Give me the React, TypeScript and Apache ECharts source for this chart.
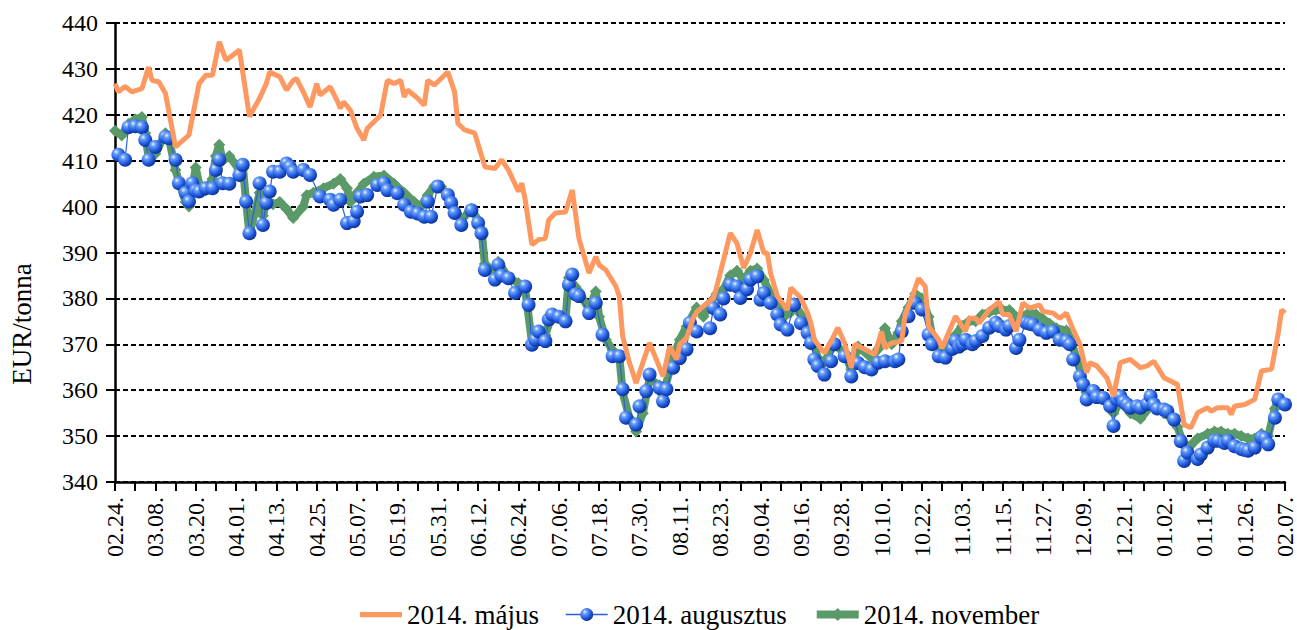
import React, { useEffect, useRef } from 'react';
import * as echarts from 'echarts';

const tickLabels = [
  '02.24.', '03.08.', '03.20.', '04.01.', '04.13.', '04.25.', '05.07.', '05.19.', '05.31.', '06.12.',
  '06.24.', '07.06.', '07.18.', '07.30.', '08.11.', '08.23.', '09.04.', '09.16.', '09.28.', '10.10.',
  '10.22.', '11.03.', '11.15.', '11.27.', '12.09.', '12.21.', '01.02.', '01.14.', '01.26.', '02.07.',
];

// day offsets from 02.24.
const majusDays = [0, 1, 3, 5, 8, 10, 11, 13, 15, 18, 22, 25, 27, 29, 31, 33, 35, 37, 40, 43, 45, 46, 49, 51, 53, 54, 56, 58, 60, 61, 64, 66, 67, 68, 70, 72, 74, 75, 79, 81, 83, 85, 86, 87, 90, 92, 93, 95, 97, 99, 101, 102, 104, 107, 109, 110, 113, 115, 117, 120, 121, 122, 124, 126, 128, 129, 131, 134, 136, 138, 141, 143, 144, 146, 149, 150, 151, 153, 155, 157, 159, 161, 163, 165, 167, 168, 170, 172, 173, 175, 178, 179, 181, 183, 185, 187, 189, 191, 193, 194, 195, 197, 200, 201, 204, 206, 207, 208, 211, 213, 215, 217, 219, 220, 223, 226, 228, 229, 231, 234, 235, 237, 239, 241, 242, 245, 246, 250, 253, 254, 256, 257, 260, 263, 264, 266, 268, 270, 272, 275, 276, 279, 281, 283, 285, 287, 289, 290, 292, 295, 297, 299, 302, 305, 307, 309, 312, 315, 316, 318, 320, 322, 325, 326, 328, 331, 332, 333, 336, 339, 341, 344, 346, 347, 348];
const majusValues = [426.8, 425.0, 426.2, 425.0, 425.7, 430.4, 427.5, 427.2, 424.7, 413.0, 415.6, 426.8, 428.6, 428.6, 435.9, 431.9, 433.0, 434.1, 419.6, 423.6, 426.8, 429.3, 428.3, 425.4, 427.5, 427.9, 425.0, 421.7, 426.8, 424.3, 426.1, 423.2, 421.4, 422.8, 421.0, 417.0, 414.5, 417.0, 419.9, 427.5, 426.8, 427.5, 423.9, 425.4, 423.6, 422.1, 427.5, 426.5, 427.9, 429.3, 425.0, 418.1, 416.7, 416.0, 411.2, 408.7, 408.3, 410.2, 408.0, 403.3, 405.1, 401.5, 391.7, 392.8, 393.1, 397.1, 398.6, 398.8, 403.6, 393.0, 385.5, 389.1, 387.3, 386.2, 382.6, 380.4, 371.7, 366.0, 361.6, 366.0, 370.3, 366.7, 363.0, 369.6, 366.7, 370.0, 371.4, 375.7, 377.0, 378.3, 380.1, 382.6, 388.4, 394.2, 392.0, 386.6, 389.9, 394.9, 389.9, 389.9, 385.5, 380.5, 377.5, 382.3, 380.1, 376.8, 374.6, 371.0, 368.1, 370.7, 373.6, 370.3, 364.9, 370.0, 368.9, 367.8, 372.8, 369.2, 370.3, 370.7, 376.5, 380.1, 384.4, 382.6, 373.9, 371.0, 369.2, 376.1, 372.8, 375.7, 375.7, 374.6, 377.5, 379.3, 376.5, 376.5, 372.8, 379.0, 377.9, 378.6, 377.2, 376.8, 375.7, 376.8, 373.2, 370.0, 363.8, 366.0, 365.3, 362.7, 358.7, 366.0, 366.7, 364.9, 365.3, 366.3, 362.7, 361.6, 361.3, 352.5, 351.8, 355.1, 356.2, 355.4, 356.2, 356.2, 354.7, 356.5, 356.9, 358.0, 364.2, 364.6, 372.5, 377.5, 376.8];

const augDays = [1, 3, 4, 6, 8, 9, 10, 12, 15, 16, 18, 19, 21, 22, 23, 24, 25, 27, 29, 30, 31, 32, 34, 37, 38, 39, 40, 43, 44, 45, 46, 47, 49, 51, 52, 53, 56, 58, 61, 64, 65, 67, 69, 71, 72, 73, 75, 78, 80, 81, 84, 86, 88, 90, 92, 93, 94, 96, 99, 100, 101, 103, 106, 108, 109, 110, 113, 114, 115, 117, 119, 122, 123, 124, 125, 126, 128, 129, 130, 132, 134, 135, 136, 137, 138, 141, 143, 145, 148, 150, 151, 152, 155, 156, 158, 159, 162, 163, 164, 166, 168, 170, 171, 173, 177, 178, 180, 181, 183, 185, 186, 188, 189, 191, 192, 193, 195, 197, 198, 200, 202, 204, 206, 207, 208, 209, 211, 213, 214, 217, 219, 221, 223, 225, 227, 229, 232, 233, 234, 236, 238, 240, 242, 243, 245, 247, 249, 250, 251, 252, 253, 255, 256, 258, 260, 262, 263, 265, 266, 268, 269, 271, 272, 273, 275, 277, 279, 281, 283, 284, 285, 287, 288, 289, 291, 292, 294, 296, 297, 298, 299, 300, 301, 302, 304, 305, 307, 308, 309, 310, 312, 313, 315, 317, 318, 319, 322, 323, 325, 327, 328, 330, 331, 333, 335, 336, 337, 339, 341, 342, 343, 345, 346, 348];
const augValues = [411.3, 410.2, 417.3, 417.5, 417.3, 414.5, 410.2, 413.0, 415.2, 414.9, 410.2, 405.1, 403.0, 401.1, 405.1, 403.5, 403.3, 404.0, 404.0, 408.0, 410.2, 405.1, 405.0, 406.9, 409.1, 401.1, 394.2, 405.1, 396.0, 400.8, 403.3, 407.6, 407.6, 409.4, 408.7, 407.6, 408.0, 406.9, 402.2, 401.5, 400.4, 401.5, 396.4, 396.8, 398.9, 402.2, 402.5, 404.7, 405.1, 403.6, 402.9, 400.4, 398.9, 398.5, 397.8, 401.1, 397.8, 404.4, 402.5, 400.8, 398.6, 396.0, 399.2, 396.4, 394.2, 386.2, 384.1, 387.3, 385.0, 384.4, 381.2, 382.6, 378.6, 369.9, 371.0, 372.8, 370.7, 375.4, 376.5, 376.0, 375.0, 383.0, 385.2, 380.9, 380.5, 376.8, 379.0, 372.1, 367.4, 367.4, 360.2, 354.0, 352.5, 356.5, 359.8, 363.4, 360.5, 357.6, 360.2, 364.9, 367.0, 368.9, 374.7, 372.8, 373.5, 377.9, 376.5, 380.0, 383.0, 382.6, 380.1, 382.0, 384.1, 384.8, 379.7, 381.2, 379.0, 376.5, 374.3, 373.2, 378.6, 374.6, 372.5, 370.3, 366.7, 365.3, 363.4, 366.3, 370.0, 367.4, 363.0, 365.9, 365.0, 364.5, 366.0, 366.3, 366.3, 366.7, 372.8, 376.1, 379.0, 377.6, 372.1, 370.0, 367.4, 367.1, 369.0, 370.7, 369.5, 370.0, 371.0, 370.0, 370.7, 371.8, 373.6, 374.7, 374.0, 373.2, 374.0, 369.2, 371.0, 374.7, 374.5, 374.3, 373.2, 372.5, 372.8, 371.0, 370.7, 370.0, 366.7, 363.0, 361.2, 358.0, 359.8, 358.5, 358.3, 356.5, 352.2, 358.0, 358.7, 357.5, 356.9, 356.2, 356.5, 356.2, 357.0, 358.7, 356.9, 356.0, 355.8, 355.4, 353.6, 348.9, 344.6, 346.4, 345.0, 346.0, 347.5, 349.0, 349.0, 348.5, 349.0, 347.8, 347.2, 347.0, 346.8, 347.5, 349.7, 349.5, 348.2, 354.0, 358.0, 356.9];

const novDays = [0, 2, 4, 6, 8, 9, 10, 12, 15, 16, 18, 19, 21, 22, 23, 24, 25, 27, 29, 30, 31, 32, 34, 37, 38, 39, 40, 43, 44, 45, 47, 49, 51, 53, 56, 57, 59, 62, 65, 67, 69, 70, 72, 74, 77, 80, 83, 86, 89, 91, 93, 95, 97, 99, 101, 103, 106, 108, 109, 110, 113, 114, 117, 120, 122, 124, 126, 128, 130, 134, 135, 137, 138, 141, 143, 144, 146, 148, 150, 151, 153, 155, 157, 159, 162, 163, 166, 168, 170, 173, 175, 177, 179, 181, 183, 185, 187, 189, 191, 193, 195, 197, 199, 201, 202, 204, 206, 208, 209, 211, 213, 214, 217, 219, 221, 225, 227, 229, 231, 233, 234, 236, 238, 240, 242, 243, 245, 247, 250, 252, 254, 256, 258, 260, 262, 264, 266, 268, 270, 272, 274, 276, 278, 280, 283, 284, 286, 288, 289, 291, 294, 296, 297, 299, 302, 305, 308, 310, 312, 314, 316, 318, 320, 322, 325, 327, 329, 331, 333, 335, 337, 339, 341, 343, 345, 346, 348];
const novValues = [416.5, 415.5, 418.0, 419.0, 419.5, 416.0, 410.5, 411.5, 416.0, 415.0, 408.0, 405.5, 401.0, 400.0, 404.0, 408.5, 405.0, 403.5, 406.0, 411.0, 413.5, 410.0, 411.0, 408.0, 409.0, 401.0, 394.0, 403.0, 398.0, 401.0, 400.5, 401.0, 399.5, 397.5, 400.0, 402.5, 403.0, 404.0, 405.0, 406.0, 404.0, 401.0, 403.0, 405.0, 406.5, 406.8, 405.0, 403.0, 401.0, 400.0, 402.5, 404.5, 404.3, 402.0, 399.5, 397.0, 399.5, 397.0, 395.0, 387.5, 385.5, 388.0, 384.5, 383.3, 382.0, 370.5, 373.0, 372.0, 376.5, 375.5, 384.5, 382.5, 381.5, 377.5, 381.5, 376.0, 371.0, 368.7, 367.5, 359.5, 354.0, 351.0, 355.0, 362.5, 361.0, 359.0, 367.0, 371.0, 373.9, 378.0, 376.0, 379.0, 381.0, 382.0, 385.0, 386.0, 384.0, 386.0, 386.5, 384.0, 381.0, 378.5, 376.0, 377.0, 379.0, 376.5, 374.0, 370.0, 367.0, 366.0, 369.0, 370.0, 368.0, 364.5, 369.5, 367.0, 369.0, 373.5, 370.0, 372.5, 375.0, 378.0, 381.0, 380.0, 376.0, 372.0, 369.0, 368.0, 372.0, 374.0, 375.0, 375.0, 376.5, 377.0, 377.5, 377.5, 377.5, 376.0, 376.0, 377.0, 376.5, 375.5, 374.5, 373.5, 373.0, 371.5, 367.0, 362.0, 359.5, 359.5, 358.0, 356.0, 355.0, 357.5, 355.0, 353.8, 356.5, 356.0, 355.0, 354.0, 352.0, 348.0, 348.0, 349.5, 350.5, 351.0, 351.0, 350.5, 350.5, 350.0, 349.5, 349.5, 350.5, 350.0, 356.0, 358.0, 357.0];

const seriesNames = ['2014. május', '2014. augusztus', '2014. november'];

function pairs(days: number[], values: number[]) {
  return days.map((d, i) => [d, values[i]]);
}

export default function App() {
  const ref = useRef<HTMLDivElement>(null);
  useEffect(() => {
    if (!ref.current) return;
    const chart = echarts.init(ref.current, null, { renderer: 'svg' });
    const font = '"Liberation Serif", "Times New Roman", serif';
    const sphere = new echarts.graphic.RadialGradient(0.35, 0.3, 0.75, [
      { offset: 0, color: '#f2f7ff' },
      { offset: 0.22, color: '#6aa0fa' },
      { offset: 0.65, color: '#1f58dc' },
      { offset: 1, color: '#0a2b88' },
    ]);
    const orange = '#fd9860';
    const green = '#5a9a69';
    chart.setOption({
      animation: false,
      backgroundColor: '#ffffff',
      grid: { left: 115, right: 12, top: 23, bottom: 148, containLabel: false },
      xAxis: {
        type: 'value',
        min: 0,
        max: 348,
        interval: 6,
        axisLine: { show: true, lineStyle: { color: '#000', width: 2.5 } },
        axisTick: { show: true, length: 9, lineStyle: { color: '#000', width: 2 } },
        axisLabel: {
          rotate: 90,
          margin: 15,
          fontFamily: font,
          fontSize: 24,
          color: '#000',
          formatter: (v: number) => (v % 12 === 0 ? tickLabels[v / 12] : ''),
        },
        splitLine: { show: false },
      },
      yAxis: {
        type: 'value',
        min: 340,
        max: 440,
        interval: 10,
        axisLine: { show: true, lineStyle: { color: '#000', width: 2.5 } },
        axisTick: { show: true, length: 9, lineStyle: { color: '#000', width: 2 } },
        axisLabel: { margin: 17, fontFamily: font, fontSize: 24, color: '#000' },
        splitLine: { show: true, lineStyle: { color: '#000', width: 2, type: [5, 3] } },
      },
      legend: {
        data: [
          { name: seriesNames[0], icon: 'path://M0,0 L40,0 L40,5 L0,5 Z' },
          { name: seriesNames[1], lineStyle: { width: 1.5 } },
          { name: seriesNames[2], lineStyle: { width: 8 } },
        ],
        top: 596,
        left: 355,
        itemWidth: 42,
        itemHeight: 16,
        itemGap: 26,
        textStyle: { fontFamily: font, fontSize: 27, color: '#000' },
      },
      graphic: [
        {
          type: 'text',
          x: 22,
          y: 324,
          rotation: Math.PI / 2,
          style: {
            text: 'EUR/tonna',
            fontFamily: font,
            fontSize: 27,
            fill: '#000',
            align: 'center',
            verticalAlign: 'middle',
            textAlign: 'center',
            textVerticalAlign: 'middle',
          },
        },
      ],
      series: [
        {
          name: seriesNames[2],
          type: 'line',
          data: pairs(novDays, novValues),
          symbol: 'diamond',
          symbolSize: 12,
          showAllSymbol: true,
          itemStyle: { color: green },
          lineStyle: { color: green, width: 8 },
          emphasis: { disabled: true },
          z: 2,
        },
        {
          name: seriesNames[1],
          type: 'line',
          data: pairs(augDays, augValues),
          symbol: 'circle',
          symbolSize: 14,
          showAllSymbol: true,
          itemStyle: { color: sphere },
          lineStyle: { color: '#2b5fd8', width: 1.2 },
          emphasis: { disabled: true },
          z: 3,
        },
        {
          name: seriesNames[0],
          type: 'line',
          data: pairs(majusDays, majusValues),
          symbol: 'none',
          itemStyle: { color: orange },
          lineStyle: { color: orange, width: 5 },
          emphasis: { disabled: true },
          z: 4,
        },
      ],
    });
    return () => chart.dispose();
  }, []);
  return (
    <div
      ref={ref}
      style={{ position: 'fixed', left: 0, top: 0, width: 1297, height: 630, background: '#fff' }}
    />
  );
}
